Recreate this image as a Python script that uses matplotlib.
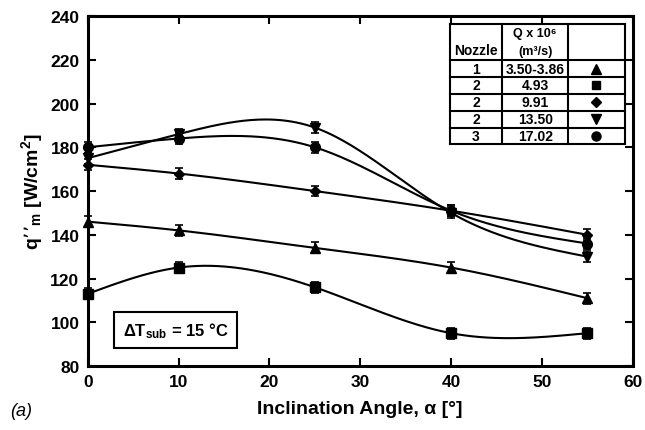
import numpy as np
import matplotlib
matplotlib.use("Agg")
import matplotlib.pyplot as plt
from matplotlib.lines import Line2D

plt.rcParams['font.family'] = ['Liberation Sans', 'DejaVu Sans']
plt.rcParams['mathtext.default'] = 'regular'

# --- data ---
angles = [0, 10, 25, 40, 55]
q_tri = [146, 142, 134, 125, 111]        # nozzle 1, 3.50-3.86
q_square = [113, 125, 116, 95, 95]       # nozzle 2, 4.93
q_diamond = [172, 168, 160, 151, 140]    # nozzle 2, 9.91
q_down = [175, 186, 189, 150, 130]       # nozzle 2, 13.50
q_circle = [180, 184, 180, 151, 136]     # nozzle 3, 17.02
err = [2.5, 2.5, 2.5, 2.5, 2.5]

nozzles = ['1', '2', '2', '2', '3']
flows = ['3.50-3.86', '4.93', '9.91', '13.50', '17.02']
markers = ['^', 's', 'D', 'v', 'o']
series = [q_tri, q_square, q_diamond, q_down, q_circle]


def natural_spline(x, y, n=200):
    # smooth curve through the points, like the original plotting program
    x = np.asarray(x, float)
    y = np.asarray(y, float)
    m = len(x)
    h = np.diff(x)
    A = np.zeros((m, m))
    b = np.zeros(m)
    A[0, 0] = A[-1, -1] = 1
    for i in range(1, m - 1):
        A[i, i - 1] = h[i - 1]
        A[i, i] = 2 * (h[i - 1] + h[i])
        A[i, i + 1] = h[i]
        b[i] = 6 * ((y[i + 1] - y[i]) / h[i] - (y[i] - y[i - 1]) / h[i - 1])
    M = np.linalg.solve(A, b)
    xs = np.linspace(x[0], x[-1], n)
    ys = np.empty_like(xs)
    for k, xv in enumerate(xs):
        i = min(np.searchsorted(x, xv, side='right') - 1, m - 2)
        t0 = x[i + 1] - xv
        t1 = xv - x[i]
        ys[k] = (M[i] * t0**3 + M[i + 1] * t1**3) / (6 * h[i]) \
            + (y[i] / h[i] - M[i] * h[i] / 6) * t0 \
            + (y[i + 1] / h[i] - M[i + 1] * h[i] / 6) * t1
    return xs, ys


fig = plt.figure(figsize=(6.45, 4.31), dpi=100)
ax = fig.add_axes([0.136, 0.1485, 0.845, 0.812])

msizes = {'^': 7, 's': 6.5, 'D': 5.5, 'v': 7, 'o': 7}
for vals, mk in zip(series, markers):
    xs, ys = natural_spline(angles, vals)
    ax.plot(xs, ys, color='black', lw=1.5, zorder=2)
    ax.errorbar(angles, vals, yerr=err, fmt=mk, color='black', ms=msizes[mk],
                capsize=3, elinewidth=1.2, capthick=1.2, zorder=3, clip_on=False)

ax.set_xlim(0, 60)
ax.set_ylim(80, 240)
ax.set_xticks(range(0, 61, 10))
ax.set_yticks(range(80, 241, 20))
ax.tick_params(direction='in', length=6, width=1.5, top=True, right=True,
               labelsize=12.5, pad=6)
for lab in ax.get_xticklabels() + ax.get_yticklabels():
    lab.set_fontweight('bold')
for sp in ax.spines.values():
    sp.set_linewidth(2.2)

ax.set_xlabel('Inclination Angle, α [°]', fontsize=14, fontweight='bold', labelpad=8)
ax.set_ylabel('q’’$_m$ [W/cm$^2$]', fontsize=14, fontweight='bold', labelpad=4)
fig.text(0.015, 0.035, '(a)', fontsize=13, style='italic')

ax.text(0.161, 0.103, r'$\Delta$T$_{sub}$ = 15 °C', transform=ax.transAxes,
        fontsize=12, fontweight='bold', ha='center', va='center',
        bbox=dict(boxstyle='square,pad=0.5', fc='white', ec='black', lw=1.5))

# --- legend table (axes fraction) ---
cols = [0.664, 0.761, 0.881, 0.985]
rows = [0.977, 0.874, 0.826, 0.777, 0.729, 0.680, 0.634]
tr = ax.transAxes
ax.add_patch(plt.Rectangle((cols[0], rows[-1]), cols[-1] - cols[0], rows[0] - rows[-1],
                           transform=tr, fc='white', ec='none', zorder=4))
for xc in cols:
    ax.add_line(Line2D([xc, xc], [rows[-1], rows[0]], transform=tr, color='black',
                       lw=1.5, zorder=5))
for yr in rows:
    ax.add_line(Line2D([cols[0], cols[-1]], [yr, yr], transform=tr, color='black',
                       lw=1.5, zorder=5))

ax.text((cols[0] + cols[1]) / 2, rows[1] + 0.01, 'Nozzle', transform=tr, ha='center',
        va='bottom', fontsize=10, fontweight='bold', zorder=6)
ax.text((cols[1] + cols[2]) / 2, rows[0] - 0.008, 'Q x 10⁶', transform=tr,
        ha='center', va='top', fontsize=9, fontweight='bold', zorder=6)
ax.text((cols[1] + cols[2]) / 2, rows[1] + 0.008, '(m³/s)', transform=tr,
        ha='center', va='bottom', fontsize=9, fontweight='bold', zorder=6)
for i in range(len(nozzles)):
    yc = (rows[i + 1] + rows[i + 2]) / 2
    ax.text((cols[0] + cols[1]) / 2, yc, nozzles[i], transform=tr, ha='center', va='center',
            fontsize=10, fontweight='bold', zorder=6)
    ax.text((cols[1] + cols[2]) / 2, yc, flows[i], transform=tr, ha='center', va='center',
            fontsize=10, fontweight='bold', zorder=6)
    ax.plot([(cols[2] + cols[3]) / 2], [yc], marker=markers[i], color='black',
            ms=msizes[markers[i]] - 0.5, transform=tr, zorder=6, clip_on=False)

fig.savefig('out.png', dpi=100)
